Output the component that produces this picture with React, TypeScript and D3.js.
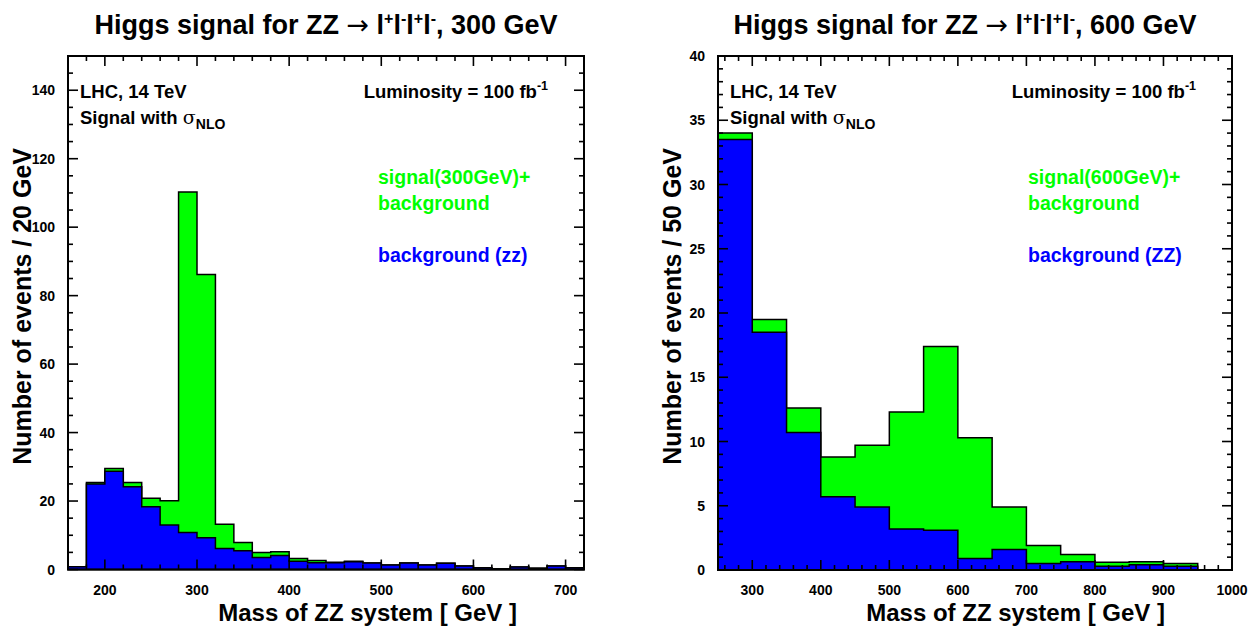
import React from "react";
import * as d3 from "d3";

// ---- Data: 300 GeV Higgs, 20 GeV bins starting at 160 GeV ----
const binStart300 = [160, 180, 200, 220, 240, 260, 280, 300, 320, 340, 360, 380, 400, 420, 440, 460, 480, 500, 520, 540, 560, 580, 600, 620, 640, 660, 680, 700];
const total300 = [0.8, 25.4, 29.5, 25.4, 20.8, 20.1, 110.3, 86.2, 13.2, 7.9, 5.0, 5.2, 3.2, 2.6, 2.1, 2.4, 1.9, 1.3, 1.9, 1.3, 1.8, 1.0, 0.5, 0.2, 0.7, 0.4, 1.0, 0.5];
const bkg300 = [0.8, 25.0, 28.7, 24.2, 18.3, 13.0, 10.8, 9.3, 6.1, 5.5, 3.5, 4.1, 2.4, 2.0, 2.0, 2.3, 1.9, 1.3, 1.9, 1.3, 1.8, 1.0, 0.5, 0.2, 0.7, 0.4, 1.0, 0.5];
const xTicks300 = [200, 300, 400, 500, 600, 700];
const yTicks300 = [0, 20, 40, 60, 80, 100, 120, 140];

// ---- Data: 600 GeV Higgs, 50 GeV bins starting at 250 GeV ----
const binStart600 = [250, 300, 350, 400, 450, 500, 550, 600, 650, 700, 750, 800, 850, 900, 950];
const total600 = [34.0, 19.5, 12.6, 8.8, 9.7, 12.3, 17.4, 10.3, 4.9, 1.9, 1.2, 0.6, 0.65, 0.5, 0];
const bkg600 = [33.5, 18.5, 10.7, 5.7, 4.9, 3.2, 3.1, 0.9, 1.6, 0.5, 0.65, 0.3, 0.4, 0.3, 0];
const xTicks600 = [300, 400, 500, 600, 700, 800, 900, 1000];
const yTicks600 = [0, 5, 10, 15, 20, 25, 30, 35, 40];

const FONT = "'Liberation Sans', Arial, Helvetica, sans-serif";
const GREEN = "#00ff00";
const BLUE = "#0000ff";

type PanelProps = {
  x0: number; x1: number; y0: number; y1: number;
  xDomain: [number, number]; yDomain: [number, number];
  binStart: number[]; binWidth: number;
  total: number[]; bkg: number[];
  xTicks: number[]; yTicks: number[];
  xMinorStep: number; yMinorStep: number;
  mass: string; binLabel: string; bkgLabel: string;
  titleX: number;
};

function histPath(x: d3.ScaleLinear<number, number>, y: d3.ScaleLinear<number, number>, starts: number[], width: number, vals: number[]) {
  const pts: [number, number][] = [[starts[0], 0]];
  starts.forEach((s, i) => pts.push([s, vals[i]]));
  const last = starts[starts.length - 1] + width;
  pts.push([last, vals[vals.length - 1]]);
  pts.push([last, 0]);
  const line = d3.line<[number, number]>()
    .x((d) => x(d[0]))
    .y((d) => y(d[1]))
    .curve(d3.curveStepAfter);
  return line(pts) + "Z";
}

function Panel(p: PanelProps) {
  const x = d3.scaleLinear().domain(p.xDomain).range([p.x0, p.x1]);
  const y = d3.scaleLinear().domain(p.yDomain).range([p.y1, p.y0]);
  const xMinor = d3.range(Math.ceil(p.xDomain[0] / p.xMinorStep) * p.xMinorStep, p.xDomain[1] + 0.001, p.xMinorStep);
  const yMinor = d3.range(p.yDomain[0], p.yDomain[1] + 0.001, p.yMinorStep);
  const MAJ = 10, MIN = 5;
  const tx = p.x0 + 12;
  return (
    <g fontFamily={FONT} fontWeight="bold">
      {/* histograms: signal+background underneath, background on top */}
      <path d={histPath(x, y, p.binStart, p.binWidth, p.total)} fill={GREEN} stroke="#000" strokeWidth={1.5} />
      <path d={histPath(x, y, p.binStart, p.binWidth, p.bkg)} fill={BLUE} stroke="#000" strokeWidth={1.5} />

      {/* ticks on all four sides */}
      <g stroke="#000" strokeWidth={1.6}>
        {xMinor.map((v) => {
          const maj = p.xTicks.includes(v);
          const l = maj ? MAJ : MIN;
          return (
            <g key={"xt" + v}>
              <line x1={x(v)} x2={x(v)} y1={p.y1} y2={p.y1 - l} />
              <line x1={x(v)} x2={x(v)} y1={p.y0} y2={p.y0 + l} />
            </g>
          );
        })}
        {yMinor.map((v) => {
          const maj = p.yTicks.includes(v);
          const l = maj ? MAJ : MIN;
          return (
            <g key={"yt" + v}>
              <line x1={p.x0} x2={p.x0 + l} y1={y(v)} y2={y(v)} />
              <line x1={p.x1} x2={p.x1 - l} y1={y(v)} y2={y(v)} />
            </g>
          );
        })}
      </g>
      <rect x={p.x0} y={p.y0} width={p.x1 - p.x0} height={p.y1 - p.y0} fill="none" stroke="#000" strokeWidth={2} />

      {/* tick labels */}
      <g fontSize={14} fill="#000">
        {p.xTicks.map((v) => (
          <text key={"xl" + v} x={x(v)} y={p.y1 + 25} textAnchor="middle">{v}</text>
        ))}
        {p.yTicks.map((v) => (
          <text key={"yl" + v} x={p.x0 - 13} y={y(v) + 5} textAnchor="end">{v}</text>
        ))}
      </g>

      {/* axis titles */}
      <text x={p.x1 - 67} y={621} textAnchor="end" fontSize={24}>Mass of ZZ system [ GeV ]</text>
      <text transform={`translate(${p.x0 - 37},${p.y0 + 92}) rotate(-90)`} textAnchor="end" fontSize={25}>
        {p.binLabel}
      </text>

      {/* title */}
      <text x={p.titleX} y={34} textAnchor="middle" fontSize={27}>
        Higgs signal for ZZ <tspan fontWeight="normal" fontFamily="'DejaVu Sans', sans-serif">→</tspan> l
        <tspan fontSize={16} dy={-10}>+</tspan>
        <tspan dy={10}>l</tspan>
        <tspan fontSize={16} dy={-10}>-</tspan>
        <tspan dy={10}>l</tspan>
        <tspan fontSize={16} dy={-10}>+</tspan>
        <tspan dy={10}>l</tspan>
        <tspan fontSize={16} dy={-10}>-</tspan>
        <tspan dy={10}>, {p.mass} GeV</tspan>
      </text>

      {/* annotations */}
      <g fontSize={18.5} fill="#000">
        <text x={tx} y={98}>LHC, 14 TeV</text>
        <text x={tx} y={124}>
          Signal with <tspan fontWeight="normal" fontFamily="'DejaVu Serif', serif" fontSize={19}>σ</tspan>
          <tspan fontSize={14} dy={5}>NLO</tspan>
        </text>
        <text x={p.x1 - 36} y={98} textAnchor="end">
          Luminosity = 100 fb<tspan fontSize={12.5} dy={-8}>-1</tspan>
        </text>
      </g>

      {/* legend */}
      <g fontSize={19.5}>
        <text x={p.x0 + 310} y={184} fill={GREEN}>signal({p.mass}GeV)+</text>
        <text x={p.x0 + 310} y={210} fill={GREEN}>background</text>
        <text x={p.x0 + 310} y={262} fill={BLUE}>{p.bkgLabel}</text>
      </g>
    </g>
  );
}

export default function App() {
  return (
    <svg width={1252} height={628} style={{ position: "absolute", left: 0, top: 0, background: "#fff" }}>
      <rect width={1252} height={628} fill="#fff" />
      <Panel
        x0={68} x1={584} y0={56} y1={569.5}
        xDomain={[160, 720]} yDomain={[0, 150]}
        binStart={binStart300} binWidth={20}
        total={total300} bkg={bkg300}
        xTicks={xTicks300} yTicks={yTicks300}
        xMinorStep={20} yMinorStep={5}
        mass="300" binLabel="Number of events / 20 GeV" bkgLabel="background (zz)"
        titleX={326}
      />
      <Panel
        x0={718} x1={1232} y0={56} y1={570}
        xDomain={[250, 1000]} yDomain={[0, 40]}
        binStart={binStart600} binWidth={50}
        total={total600} bkg={bkg600}
        xTicks={xTicks600} yTicks={yTicks600}
        xMinorStep={20} yMinorStep={1}
        mass="600" binLabel="Number of events / 50 GeV" bkgLabel="background (ZZ)"
        titleX={965}
      />
    </svg>
  );
}
